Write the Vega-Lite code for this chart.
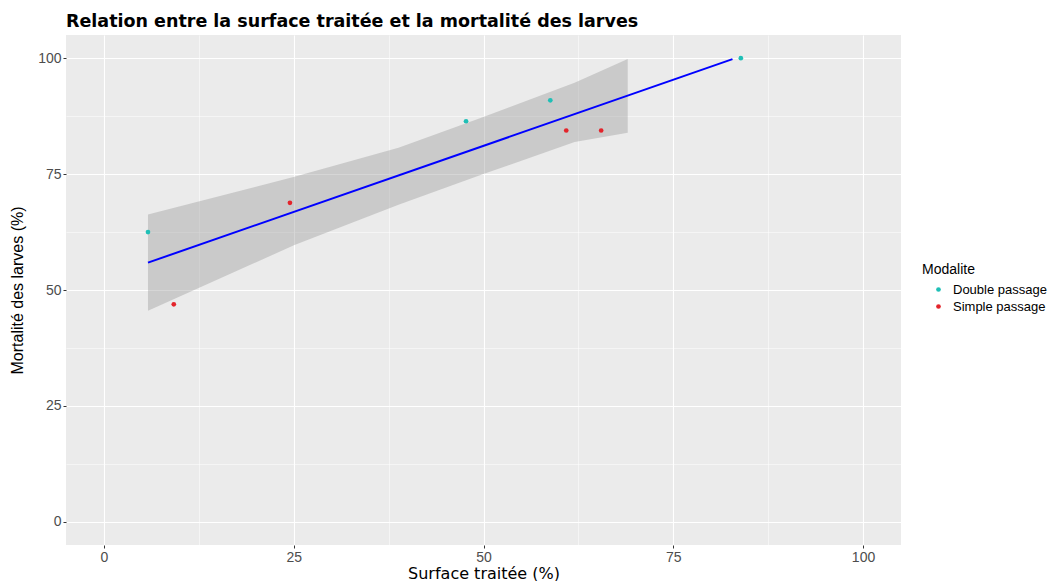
{
  "$schema": "https://vega.github.io/schema/vega-lite/v6.json",
  "autosize": {"type": "none"},
  "width": 835,
  "height": 510,
  "padding": {"left": 66, "top": 35, "right": 151, "bottom": 36},
  "background": "white",
  "title": {
    "text": "Relation entre la surface traitée et la mortalité des larves",
    "anchor": "start",
    "frame": "group",
    "font": "DejaVu Sans",
    "fontSize": 17.5,
    "fontWeight": "bold",
    "color": "#000000",
    "offset": 5
  },
  "config": {
    "view": {"fill": "#EBEBEB", "stroke": null},
    "font": "Liberation Sans",
    "axis": {
      "domain": false,
      "gridColor": "#FFFFFF",
      "tickColor": "#333333",
      "tickSize": 3,
      "labelColor": "#4D4D4D",
      "labelFont": "Liberation Sans",
      "labelFontSize": 14,
      "labelPadding": 2,
      "titleFont": "Liberation Sans",
      "titleFontSize": 16,
      "titleFontWeight": "normal",
      "titleColor": "#000000"
    },
    "legend": {
      "titleFont": "Liberation Sans",
      "titleFontSize": 14,
      "titleFontWeight": "normal",
      "titleColor": "#000000",
      "labelFont": "Liberation Sans",
      "labelFontSize": 13,
      "labelColor": "#000000"
    }
  },
  "datasets": {
    "band": [
      {"Surface": 5.8, "lower": 45.5, "upper": 66.3},
      {"Surface": 25.1, "lower": 59.7, "upper": 74.4},
      {"Surface": 38.8, "lower": 68.4, "upper": 80.7},
      {"Surface": 49.8, "lower": 74.9, "upper": 87.2},
      {"Surface": 62.0, "lower": 81.9, "upper": 94.7},
      {"Surface": 69.0, "lower": 83.9, "upper": 99.8}
    ],
    "fit": [
      {"Surface": 5.8, "Mortalite": 55.9},
      {"Surface": 82.8, "Mortalite": 99.8}
    ],
    "points": [
      {"Surface": 5.8, "Mortalite": 62.5, "Modalite": "Double passage"},
      {"Surface": 47.7, "Mortalite": 86.4, "Modalite": "Double passage"},
      {"Surface": 58.8, "Mortalite": 90.9, "Modalite": "Double passage"},
      {"Surface": 83.9, "Mortalite": 100.0, "Modalite": "Double passage"},
      {"Surface": 9.2, "Mortalite": 46.9, "Modalite": "Simple passage"},
      {"Surface": 24.5, "Mortalite": 68.8, "Modalite": "Simple passage"},
      {"Surface": 60.9, "Mortalite": 84.4, "Modalite": "Simple passage"},
      {"Surface": 65.5, "Mortalite": 84.4, "Modalite": "Simple passage"}
    ]
  },
  "layer": [
    {
      "data": {"name": "band"},
      "mark": {"type": "area", "fill": "#999999", "opacity": 0.4},
      "encoding": {
        "x": {
          "field": "Surface", "type": "quantitative",
          "title": "Surface traitée (%)",
          "scale": {"domain": [-5, 105], "nice": false, "zero": false},
          "axis": {
            "values": [0, 12.5, 25, 37.5, 50, 62.5, 75, 87.5, 100],
            "labelExpr": "datum.value % 25 === 0 ? datum.label : ''",
            "gridWidth": {"condition": {"test": "datum.value % 25 === 0", "value": 1.1}, "value": 0.5},
            "tickOpacity": {"condition": {"test": "datum.value % 25 === 0", "value": 1}, "value": 0},
            "titleFont": "DejaVu Sans",
            "titleFontSize": 16,
            "titlePadding": 1
          }
        },
        "y": {
          "field": "lower", "type": "quantitative",
          "title": "Mortalité des larves (%)",
          "scale": {"domain": [-5, 105], "nice": false, "zero": false},
          "axis": {
            "values": [0, 12.5, 25, 37.5, 50, 62.5, 75, 87.5, 100],
            "labelExpr": "datum.value % 25 === 0 ? datum.label : ''",
            "gridWidth": {"condition": {"test": "datum.value % 25 === 0", "value": 1.1}, "value": 0.5},
            "tickOpacity": {"condition": {"test": "datum.value % 25 === 0", "value": 1}, "value": 0},
            "titlePadding": 12
          }
        },
        "y2": {"field": "upper"}
      }
    },
    {
      "data": {"name": "fit"},
      "mark": {"type": "line", "color": "#0000FF", "strokeWidth": 2},
      "encoding": {
        "x": {"field": "Surface", "type": "quantitative", "title": "Surface traitée (%)"},
        "y": {"field": "Mortalite", "type": "quantitative", "title": "Mortalité des larves (%)"}
      }
    },
    {
      "data": {"name": "points"},
      "mark": {"type": "point", "filled": true, "shape": "circle", "size": 22, "opacity": 1},
      "encoding": {
        "x": {"field": "Surface", "type": "quantitative", "title": "Surface traitée (%)"},
        "y": {"field": "Mortalite", "type": "quantitative", "title": "Mortalité des larves (%)"},
        "color": {
          "field": "Modalite", "type": "nominal", "title": "Modalite",
          "scale": {"domain": ["Double passage", "Simple passage"], "range": ["#1FBFB6", "#E3242B"]},
          "legend": {
            "orient": "none",
            "legendX": 856,
            "legendY": 228,
            "symbolSize": 22,
            "symbolOffset": 10,
            "labelOffset": 8,
            "rowPadding": 3,
            "titlePadding": 6
          }
        }
      }
    }
  ]
}
